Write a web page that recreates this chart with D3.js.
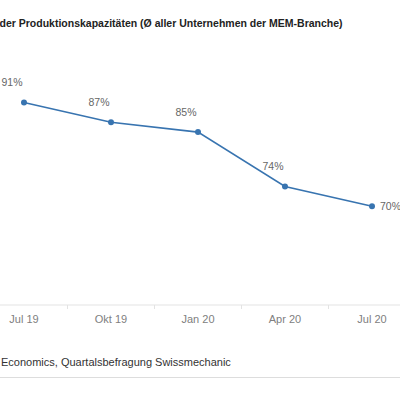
<!DOCTYPE html>
<html>
<head>
<meta charset="utf-8">
<script src="https://cdn.jsdelivr.net/npm/d3@7"></script>
<style>
  body { margin: 0; background: #fff; }
  svg { display: block; font-family: "Liberation Sans", Arial, sans-serif; }
</style>
</head>
<body>
<div id="chart"></div>
<script>
// quarters and average capacity utilisation (%)
var quarters = ["Jul 19", "Okt 19", "Jan 20", "Apr 20", "Jul 20"];
var auslastung = [91, 87, 85, 74, 70];
var titleText = "Auslastung der Produktionskapazitäten (Ø aller Unternehmen der MEM-Branche)";
var sourceText = "Quelle: BAK Economics, Quartalsbefragung Swissmechanic";

var width = 400, height = 395;
var svg = d3.select("#chart").append("svg")
    .attr("width", width)
    .attr("height", height);

// the picture is a crop of a wider chart, so the bands run off both edges
var x = d3.scaleBand()
    .domain(quarters)
    .range([-19.5, 415.5]);

var y = d3.scaleLinear()
    .domain([50, 100])
    .range([305, 58]);

// title, shifted so that only "der ..." is visible
var titleSize = 10.5;
var title = svg.append("text")
    .attr("y", 27)
    .attr("font-size", titleSize)
    .attr("font-weight", "bold")
    .attr("fill", "#222")
    .text(titleText);
var tmp = svg.append("text").attr("font-size", titleSize).attr("font-weight", "bold")
    .attr("xml:space", "preserve").text("Auslastung ");
title.attr("x", -tmp.node().getComputedTextLength() - 0.5);
tmp.remove();

// x axis
var xAxis = svg.append("g").attr("transform", "translate(0,305)");
xAxis.append("line")
    .attr("x1", 0).attr("x2", width)
    .attr("stroke", "#e3e3e3").attr("stroke-width", 1);
xAxis.selectAll(".tick")
    .data(quarters.slice(1))
    .enter().append("line")
    .attr("x1", function(d){ return x(d); })
    .attr("x2", function(d){ return x(d); })
    .attr("y1", 0).attr("y2", 4)
    .attr("stroke", "#e3e3e3");
xAxis.selectAll(".lbl")
    .data(quarters)
    .enter().append("text")
    .attr("x", function(d){ return x(d) + x.bandwidth() / 2; })
    .attr("y", 18)
    .attr("text-anchor", "middle")
    .attr("font-size", 11)
    .attr("fill", "#808080")
    .text(function(d){ return d; });

// line
var pts = quarters.map(function(q, i){ return {q: q, v: auslastung[i]}; });
var line = d3.line()
    .x(function(d){ return x(d.q) + x.bandwidth() / 2; })
    .y(function(d){ return y(d.v); });

svg.append("path")
    .datum(pts)
    .attr("d", line)
    .attr("fill", "none")
    .attr("stroke", "#3874b0")
    .attr("stroke-width", 1.6);

svg.selectAll(".dot")
    .data(pts)
    .enter().append("circle")
    .attr("cx", function(d){ return x(d.q) + x.bandwidth() / 2; })
    .attr("cy", function(d){ return y(d.v); })
    .attr("r", 3)
    .attr("fill", "#3874b0");

svg.selectAll(".val")
    .data(pts)
    .enter().append("text")
    .attr("x", function(d, i){
        var cx = x(d.q) + x.bandwidth() / 2;
        return i === pts.length - 1 ? cx + 8 : cx - 12;
    })
    .attr("y", function(d, i){
        return i === pts.length - 1 ? y(d.v) + 4 : y(d.v) - 16;
    })
    .attr("text-anchor", function(d, i){ return i === pts.length - 1 ? "start" : "middle"; })
    .attr("font-size", 10.5)
    .attr("fill", "#666")
    .text(function(d){ return d.v + "%"; });

// source, also cut at the left edge
var src = svg.append("text")
    .attr("y", 366)
    .attr("font-size", 11)
    .attr("fill", "#333")
    .text(sourceText);
var tmp2 = svg.append("text").attr("font-size", 11)
    .attr("xml:space", "preserve").text("Quelle: BAK ");
src.attr("x", -tmp2.node().getComputedTextLength() + 1);
tmp2.remove();

svg.append("line")
    .attr("x1", 0).attr("x2", width)
    .attr("y1", 377.5).attr("y2", 377.5)
    .attr("stroke", "#ddd");
</script>
</body>
</html>
